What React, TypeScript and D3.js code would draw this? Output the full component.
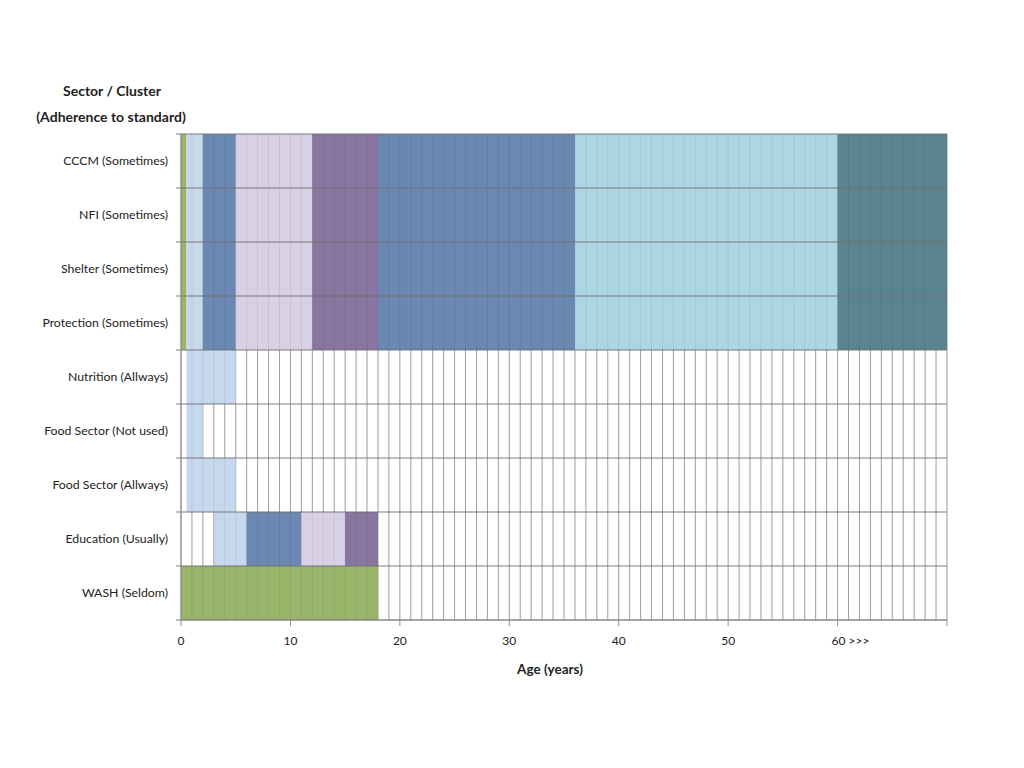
import React from "react";
import * as d3 from "d3";

const categories = [
  "CCCM (Sometimes)",
  "NFI (Sometimes)",
  "Shelter (Sometimes)",
  "Protection (Sometimes)",
  "Nutrition (Allways)",
  "Food Sector (Not used)",
  "Food Sector (Allways)",
  "Education (Usually)",
  "WASH (Seldom)",
];

// age-band boundaries used for the shared sequence
const ageBreaks = [0, 0.5, 2, 5, 12, 18, 36, 60, 70];
const ageColors = ["green", "lightblue", "blue", "lavender", "purple", "blue", "cyan", "teal"];

// segments per category: [start, end, colorKey]
const segCCCM: [number, number, string][] = ageColors.map((c, i) => [ageBreaks[i], ageBreaks[i + 1], c]);
const segNutrition: [number, number, string][] = [[0.5, 5, "lightblue"]];
const segFoodNotUsed: [number, number, string][] = [[0.5, 2, "lightblue"]];
const segFoodAllways: [number, number, string][] = [[0.5, 5, "lightblue"]];
const segEducation: [number, number, string][] = [
  [3, 6, "lightblue"],
  [6, 11, "blue"],
  [11, 15, "lavender"],
  [15, 18, "purple"],
];
const segWASH: [number, number, string][] = [[0, 18, "green"]];

const segments = [
  segCCCM,
  segCCCM,
  segCCCM,
  segCCCM,
  segNutrition,
  segFoodNotUsed,
  segFoodAllways,
  segEducation,
  segWASH,
];

const xTicks = [0, 10, 20, 30, 40, 50, 60, 70];
const xTickLabels = ["0", "10", "20", "30", "40", "50", "60 >>>", ""];

const palette: Record<string, string> = {
  green: "#9AB46A",
  lightblue: "#C6D8EC",
  blue: "#6A88B2",
  lavender: "#D8D0E4",
  purple: "#8876A0",
  cyan: "#ACD6E4",
  teal: "#5A8590",
};

export default function App() {
  const W = 1024;
  const H = 768;
  const left = 181;
  const right = 947;
  const top = 134;
  const bottom = 620;
  const x = d3.scaleLinear().domain([0, 70]).range([left, right]);
  const y = d3.scaleBand().domain(categories).range([top, bottom]).padding(0);
  const years = d3.range(0, 71);
  const rowEdges = d3.range(0, categories.length + 1).map((k) => top + k * y.step());
  const font = "Lato, 'Open Sans', sans-serif";

  return (
    <svg width={W} height={H} style={{ position: "absolute", left: 0, top: 0, background: "#fff" }}>
      {/* vertical grid lines (under bars) */}
      {years.map((yr) => (
        <line key={"g" + yr} x1={x(yr)} x2={x(yr)} y1={top} y2={bottom} stroke="#ABABAB" strokeWidth={1} />
      ))}
      {/* bars */}
      {segments.map((segs, i) =>
        segs.map((s, j) => (
          <rect
            key={`b${i}-${j}`}
            x={x(s[0])}
            y={y(categories[i])!}
            width={x(s[1]) - x(s[0])}
            height={y.bandwidth()}
            fill={palette[s[2]]}
          />
        ))
      )}
      {/* faint grid showing through bars */}
      {years.map((yr) => (
        <line key={"o" + yr} x1={x(yr)} x2={x(yr)} y1={top} y2={bottom} stroke="#000" strokeOpacity={0.07} strokeWidth={1} />
      ))}
      {/* horizontal grid lines */}
      {rowEdges.map((yy, k) => (
        <line key={"h" + k} x1={left - 5} x2={right} y1={yy} y2={yy} stroke="#6E6E6E" strokeOpacity={0.6} strokeWidth={1.3} />
      ))}
      {/* axes */}
      <line x1={left} x2={left} y1={top} y2={bottom} stroke="#8C8C8C" strokeWidth={1} />
      <line x1={left} x2={right} y1={bottom} y2={bottom} stroke="#8C8C8C" strokeWidth={1} />
      {xTicks.map((t, i) => (
        <g key={"t" + t}>
          <line x1={x(t)} x2={x(t)} y1={bottom} y2={bottom + 6} stroke="#8C8C8C" />
          {xTickLabels[i] && (
            <text
              x={i === 6 ? x(t) - 6 : x(t)}
              y={645}
              textAnchor={i === 6 ? "start" : "middle"}
              fontFamily={font}
              fontSize={12}
              fill="#222"
            >
              {xTickLabels[i]}
            </text>
          )}
        </g>
      ))}
      {/* y labels */}
      {categories.map((c) => (
        <text
          key={c}
          x={168}
          y={y(c)! + y.bandwidth() / 2 + 4}
          textAnchor="end"
          fontFamily={font}
          fontSize={12.3}
          fill="#222"
        >
          {c}
        </text>
      ))}
      {/* titles */}
      <text x={112} y={96} textAnchor="middle" fontFamily={font} fontSize={14} fontWeight="bold" fill="#222">
        Sector / Cluster
      </text>
      <text x={111} y={122} textAnchor="middle" fontFamily={font} fontSize={14} fontWeight="bold" fill="#222">
        (Adherence to standard)
      </text>
      <text x={550} y={674} textAnchor="middle" fontFamily={font} fontSize={13.5} fontWeight="bold" fill="#222">
        Age (years)
      </text>
    </svg>
  );
}
